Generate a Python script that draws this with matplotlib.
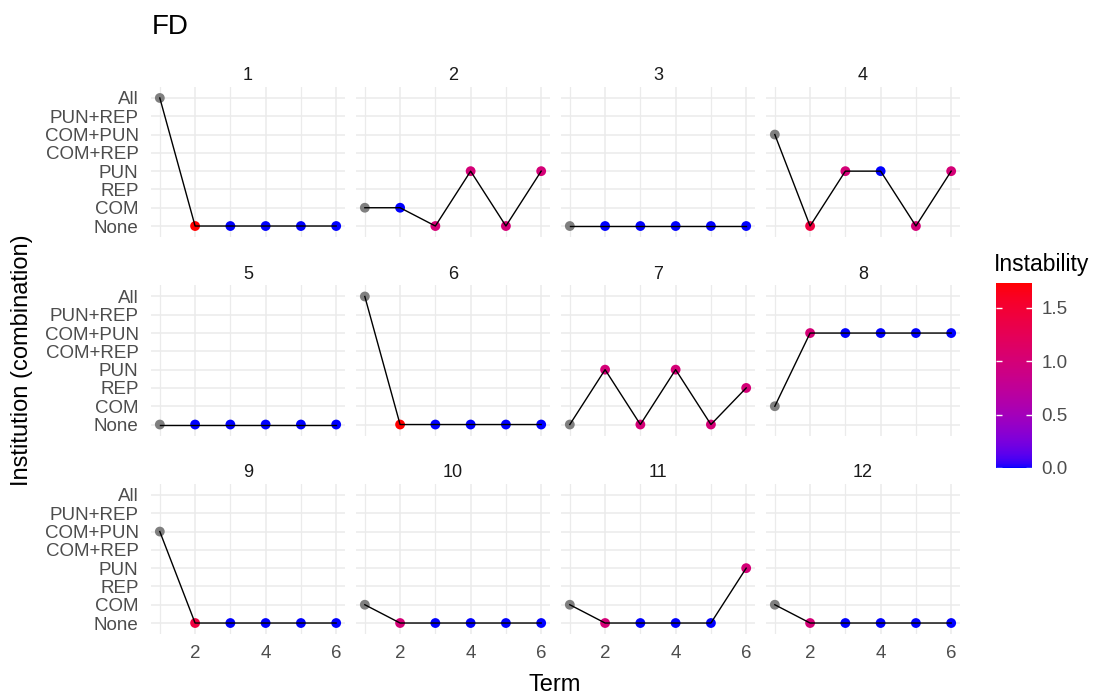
import numpy as np
import matplotlib
matplotlib.use("Agg")
from matplotlib import pyplot as plt
from matplotlib.colors import ListedColormap, Normalize
from matplotlib.cm import ScalarMappable

plt.rcParams['font.family'] = ['Liberation Sans', 'DejaVu Sans']

categories = ["None", "COM", "REP", "PUN", "COM+REP", "COM+PUN", "PUN+REP", "All"]
terms = [1, 2, 3, 4, 5, 6]

# institution chosen in each term, per group
groups = {
    1: ["All", "None", "None", "None", "None", "None"],
    2: ["COM", "COM", "None", "PUN", "None", "PUN"],
    3: ["None", "None", "None", "None", "None", "None"],
    4: ["COM+PUN", "None", "PUN", "PUN", "None", "PUN"],
    5: ["None", "None", "None", "None", "None", "None"],
    6: ["All", "None", "None", "None", "None", "None"],
    7: ["None", "PUN", "None", "PUN", "None", "REP"],
    8: ["COM", "COM+PUN", "COM+PUN", "COM+PUN", "COM+PUN", "COM+PUN"],
    9: ["COM+PUN", "None", "None", "None", "None", "None"],
    10: ["COM", "None", "None", "None", "None", "None"],
    11: ["COM", "None", "None", "None", "None", "PUN"],
    12: ["COM", "None", "None", "None", "None", "None"],
}
nan = np.nan
instability = {
    1: [nan, 1.73, 0, 0, 0, 0],
    2: [nan, 0, 1, 1, 1, 1],
    3: [nan, 0, 0, 0, 0, 0],
    4: [nan, 1.41, 1, 0, 1, 1],
    5: [nan, 0, 0, 0, 0, 0],
    6: [nan, 1.73, 0, 0, 0, 0],
    7: [nan, 1, 1, 1, 1, 1],
    8: [nan, 1, 0, 0, 0, 0],
    9: [nan, 1.41, 0, 0, 0, 0],
    10: [nan, 1, 0, 0, 0, 0],
    11: [nan, 1, 0, 0, 0, 1],
    12: [nan, 1, 0, 0, 0, 0],
}
vmin, vmax = 0.0, 1.732


# ggplot-style gradient: interpolate blue -> red in CIELAB
def srgb_to_lab(rgb):
    c = np.array(rgb, float)
    c = np.where(c <= 0.04045, c / 12.92, ((c + 0.055) / 1.055) ** 2.4)
    M = np.array([[0.4124, 0.3576, 0.1805], [0.2126, 0.7152, 0.0722], [0.0193, 0.1192, 0.9505]])
    xyz = M @ c / np.array([0.95047, 1.0, 1.08883])
    f = np.where(xyz > 0.008856, np.cbrt(xyz), 7.787 * xyz + 16 / 116)
    return np.array([116 * f[1] - 16, 500 * (f[0] - f[1]), 200 * (f[1] - f[2])])


def lab_to_srgb(lab):
    L, a, b = lab
    fy = (L + 16) / 116
    f = np.array([fy + a / 500, fy, fy - b / 200])
    xyz = np.where(f ** 3 > 0.008856, f ** 3, (f - 16 / 116) / 7.787) * np.array([0.95047, 1.0, 1.08883])
    Minv = np.array([[3.2406, -1.5372, -0.4986], [-0.9689, 1.8758, 0.0415], [0.0557, -0.2040, 1.0570]])
    c = Minv @ xyz
    c = np.where(c <= 0.0031308, 12.92 * c, 1.055 * np.clip(c, 0, None) ** (1 / 2.4) - 0.055)
    return np.clip(c, 0, 1)


lo, hi = srgb_to_lab([0, 0, 1]), srgb_to_lab([1, 0, 0])
cmap = ListedColormap([lab_to_srgb(lo + t * (hi - lo)) for t in np.linspace(0, 1, 256)])
norm = Normalize(vmin, vmax)

W, H = 1096, 700
fig = plt.figure(figsize=(W / 100, H / 100), dpi=100)

grid_col = "#EBEBEB"
tick_col = "#4D4D4D"
col_x = [151, 356, 561, 766]
row_top = [87, 285.5, 484]
pw, ph = 194, 150

for g in range(1, 13):
    r, c = (g - 1) // 4, (g - 1) % 4
    ax = fig.add_axes([col_x[c] / W, 1 - (row_top[r] + ph) / H, pw / W, ph / H])
    y = [categories.index(v) for v in groups[g]]
    vals = np.array(instability[g], float)
    cols = [cmap(norm(v)) if not np.isnan(v) else "#7F7F7F" for v in vals]
    ax.scatter(terms, y, s=50, c=cols, zorder=3, linewidths=0)
    ax.plot(terms, y, color="black", lw=1.0, zorder=4)
    ax.set_xlim(0.75, 6.25)
    ax.set_ylim(-0.6, 7.6)
    ax.set_xticks([2, 4, 6])
    ax.set_xticks([1, 3, 5], minor=True)
    ax.set_yticks(range(len(categories)))
    ax.set_yticklabels(categories)
    ax.grid(True, which="major", color=grid_col, lw=1.1)
    ax.grid(True, which="minor", axis="x", color=grid_col, lw=0.9)
    ax.set_axisbelow(True)
    for s in ax.spines.values():
        s.set_visible(False)
    ax.tick_params(axis="y", which="both", length=0, labelsize=13.5, labelcolor=tick_col, pad=9)
    ax.tick_params(axis="x", which="both", length=0, labelsize=13.5, labelcolor=tick_col, pad=8)
    if c != 0:
        ax.set_yticklabels([])
    if r != 2:
        ax.set_xticklabels([])
    ax.set_title(str(g), fontsize=13, color="#1A1A1A", pad=5)

fig.text(152 / W, 1 - 27 / H, "FD", fontsize=20, va="center", ha="left")
fig.text(555 / W, 1 - 685 / H, "Term", fontsize=17, va="center", ha="center")
fig.text(22 / W, 1 - 360 / H, "Institution (combination)", fontsize=17,
         va="center", ha="center", rotation=90)

# colour bar
cax = fig.add_axes([996 / W, 1 - 468 / H, 36 / W, 185 / H])
cb = fig.colorbar(ScalarMappable(norm=norm, cmap=cmap), cax=cax)
cb.outline.set_visible(False)
cb.set_ticks([0.0, 0.5, 1.0, 1.5])
cb.set_ticklabels(["0.0", "0.5", "1.0", "1.5"])
cax.yaxis.set_ticks_position("both")
cax.tick_params(direction="in", length=4, width=1, colors="white",
                labelcolor=tick_col, labelsize=13.5, pad=7, labelleft=False, labelright=True)
fig.text(994 / W, 1 - 265 / H, "Instability", fontsize=16.5, va="center", ha="left")

fig.savefig("out.png", dpi=100)
